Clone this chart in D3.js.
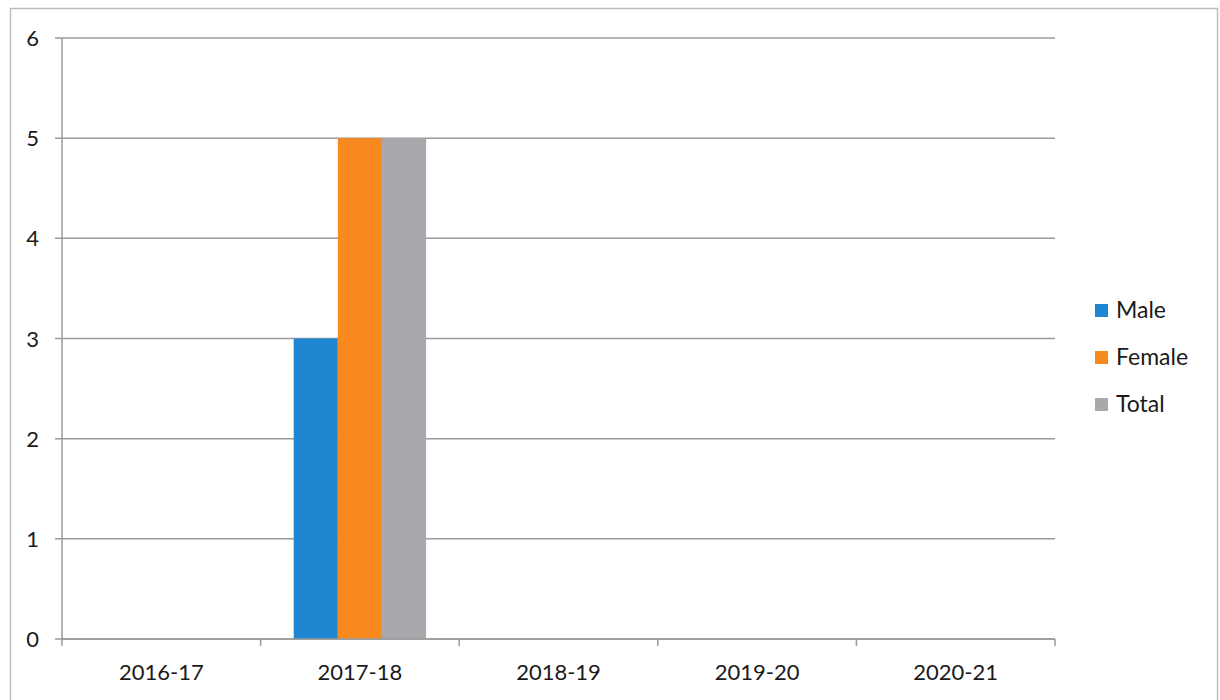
<!DOCTYPE html>
<html><head><meta charset="utf-8">
<script src="https://cdn.jsdelivr.net/npm/d3@7"></script>
<style>body{margin:0;background:#fff}svg{display:block}text{font-family:Lato,"Open Sans",sans-serif;fill:#1a1a1a}</style>
</head><body>
<svg id="c" width="1220" height="700"></svg>
<script>
const categories = ["2016-17","2017-18","2018-19","2019-20","2020-21"];
const seriesNames = ["Male","Female","Total"];
const male = [0,3,0,0,0];
const female = [0,5,0,0,0];
const total = [0,5,0,0,0];
const yTicks = [0,1,2,3,4,5,6];
const colors = ["#1f86d2","#f7891f","#a9a8ac"];
const seriesVals = [male, female, total];

const svg = d3.select("#c");
svg.append("rect").attr("x",10.5).attr("y",8.5).attr("width",1207).attr("height",705)
  .attr("fill","none").attr("stroke","#bdbdbd").attr("stroke-width",1.5);

const L=62, R=1055, T=38, B=639;
const x = d3.scaleBand().domain(categories).range([L,R]);
const y = d3.scaleLinear().domain([0,6]).range([B,T]);

// gridlines
svg.append("g").selectAll("line").data(yTicks).join("line")
  .attr("x1",L-7).attr("x2",R).attr("y1",d=>y(d)).attr("y2",d=>y(d))
  .attr("stroke","#9a9a9a").attr("stroke-width",1.5);
// y axis line
svg.append("line").attr("x1",L).attr("x2",L).attr("y1",T).attr("y2",B).attr("stroke","#9a9a9a").attr("stroke-width",1.5);
// y labels
svg.append("g").selectAll("text").data(yTicks).join("text")
  .attr("x",39).attr("y",d=>y(d)+8).attr("text-anchor","end").attr("font-size",22).text(d=>d);

// bars
const bw = x.bandwidth()/4.5;
seriesVals.forEach((vals,si)=>{
  svg.append("g").selectAll("rect").data(vals.map((v,i)=>({v,c:categories[i]}))).join("rect")
    .attr("x",d=>x(d.c)+bw*0.75+si*bw).attr("width",bw)
    .attr("y",d=>y(d.v)).attr("height",d=>B-y(d.v)).attr("fill",colors[si]);
});

// x axis
svg.append("line").attr("x1",L).attr("x2",R).attr("y1",B).attr("y2",B).attr("stroke","#9a9a9a").attr("stroke-width",1.5);
const bounds = categories.map(c=>x(c)).concat([R]);
svg.append("g").selectAll("line").data(bounds).join("line")
  .attr("x1",d=>d).attr("x2",d=>d).attr("y1",B).attr("y2",B+7).attr("stroke","#9a9a9a").attr("stroke-width",1.5);
svg.append("g").selectAll("text").data(categories).join("text")
  .attr("x",d=>x(d)+x.bandwidth()/2).attr("y",680).attr("text-anchor","middle").attr("font-size",22).text(d=>d);

// legend
const lg = svg.append("g");
seriesNames.forEach((n,i)=>{
  const yy = 310 + i*47;
  lg.append("rect").attr("x",1095).attr("y",yy-6).attr("width",13).attr("height",13).attr("fill",colors[i]);
  lg.append("text").attr("x",1116).attr("y",yy+8).attr("font-size",23).text(n);
});
</script>
</body></html>
